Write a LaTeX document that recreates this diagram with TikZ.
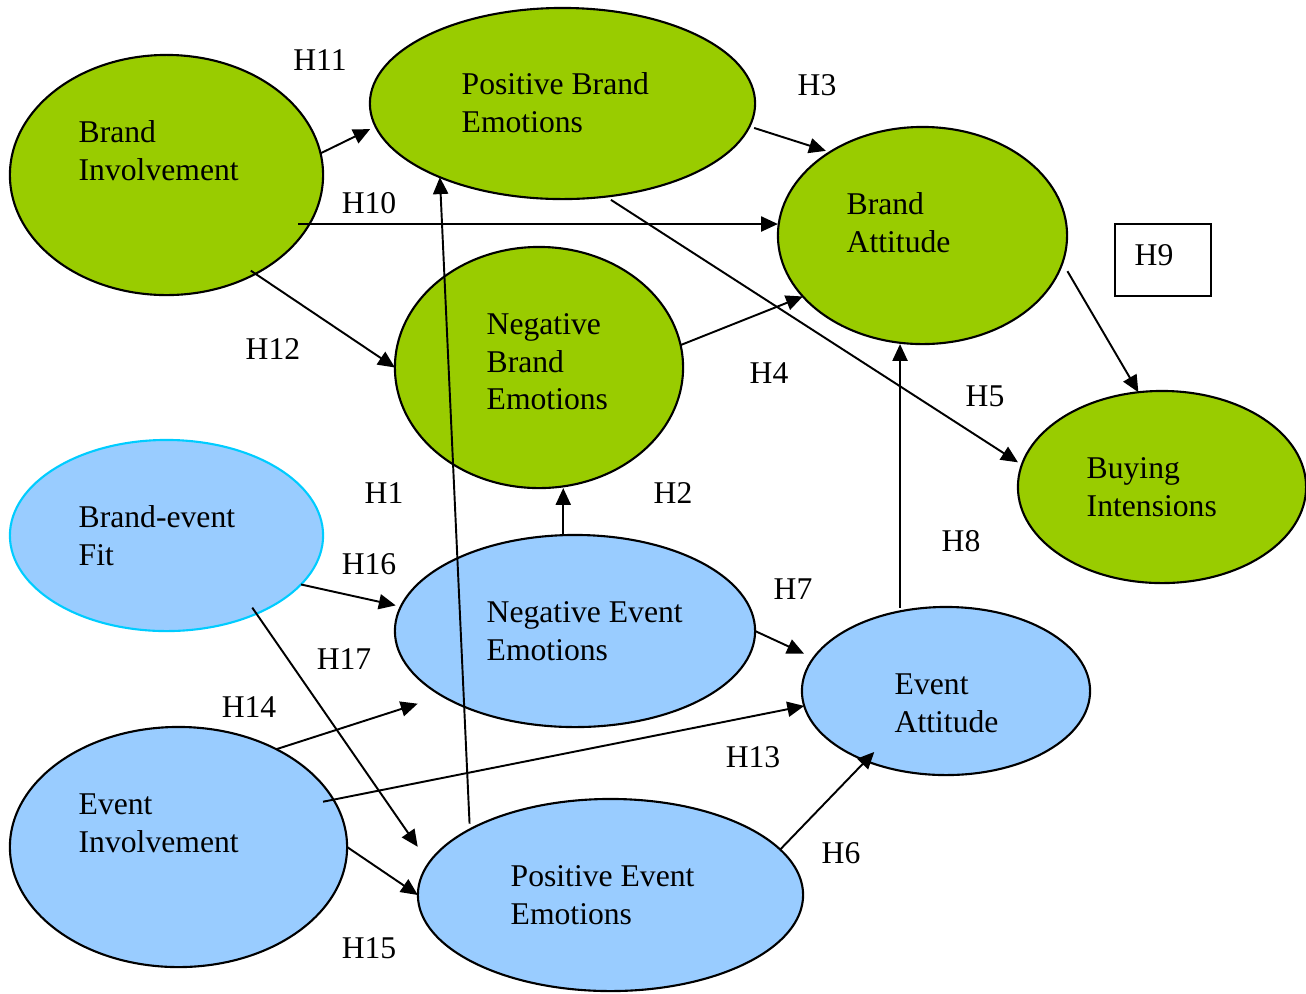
\documentclass[tikz,border=0pt]{standalone}
\usepackage{fontspec}
\setmainfont{Liberation Serif}
\usetikzlibrary{shapes.geometric, arrows.meta, calc}
\definecolor{brandgreen}{HTML}{99CC00}
\definecolor{eventblue}{HTML}{99CCFF}
\definecolor{fitcyan}{HTML}{00CCFF}

\begin{document}
\begin{tikzpicture}[x=0.01cm, y=-0.01cm,
  construct/.style={ellipse, draw=black, line width=0.6pt, inner sep=0pt, outer sep=0pt},
  brandell/.style={construct, fill=brandgreen},
  eventell/.style={construct, fill=eventblue},
  fitell/.style={construct, fill=eventblue, draw=fitcyan},
  lbl/.style={inner sep=0pt, anchor=north west, align=left, font=\fontsize{9}{10.6}\selectfont},
  hyp/.style={inner sep=0pt, font=\fontsize{9}{10.6}\selectfont},
  link/.style={-{Triangle[length=4.8pt,width=4.3pt]}, line width=0.55pt}]
\useasboundingbox (0,0) rectangle (1306,993);

% brand constructs
\node[brandell, minimum width=3.13cm, minimum height=2.40cm] (bi)  at (166.5,175)   {};
\node[brandell, minimum width=3.85cm, minimum height=1.91cm] (pbe) at (562.5,103.5) {};
\node[brandell, minimum width=2.89cm, minimum height=2.17cm] (ba)  at (922.5,235.5) {};
\node[brandell, minimum width=2.88cm, minimum height=2.41cm] (nbe) at (539,367.5)   {};
\node[brandell, minimum width=2.88cm, minimum height=1.92cm] (buy) at (1162,487)    {};

% event constructs
\node[fitell,   minimum width=3.13cm, minimum height=1.91cm] (bef) at (166.5,535.5) {};
\node[eventell, minimum width=3.60cm, minimum height=1.92cm] (nee) at (575,631)     {};
\node[eventell, minimum width=2.88cm, minimum height=1.68cm] (ea)  at (946,691)     {};
\node[eventell, minimum width=3.37cm, minimum height=2.40cm] (ei)  at (178.5,847)   {};
\node[eventell, minimum width=3.85cm, minimum height=1.92cm] (pee) at (610.5,895)   {};

% hypothesis box
\node[draw, line width=0.6pt, inner sep=0pt, minimum width=0.96cm, minimum height=0.72cm] (h9box) at (1163,260) {};

% hypothesised paths
\draw[link, shorten >=1.7pt] (bi.8) -- (pbe.187);
\draw[link, shorten <=1.4pt, shorten >=1.2pt] (pbe.-7) -- (ba.138);
\coordinate (h10s) at (298,224);
\draw[link] (h10s) -- (h10s -| ba.west);
\draw[link, shorten <=-1.6pt] (bi.-48) -- (nbe.west);
\draw[link] (nbe.9) -- (ba.207);
\draw[link, shorten <=1.7pt, shorten >=1.3pt] (pbe.-65.5) -- (buy.171);
\draw[link, shorten <=2.8pt] (ba.-11.4) -- (buy.104);
\draw[link] (nee.97) -- (nee.97 |- nbe.south);
\draw[link, shorten <=1pt] (ea.120.6) -- (ea.120.6 |- ba.south);
\draw[link, shorten <=1.65pt] (pee.155.85) -- (pbe.211.9);
\draw[link, shorten >=1.5pt] (bef.-20.1) -- (nee.172.6);
\draw[link, shorten >=3pt] (nee.east) -- (ea.166.7);
\draw[link, shorten <=-2.1pt, shorten >=5.6pt] (bef.-41.5) -- (pee.170.4);
\draw[link, shorten >=7.3pt] (ei.45) -- (nee.206.1);
\draw[link, shorten <=-3pt] (ei.17.7) -- (ea.186);
\draw[link] (ei.east) -- (pee.west);
\draw[link, shorten >=-3.5pt] (pee.15.6) -- (ea.221.6);

% construct names
\node[lbl] (bi-t)  at (78,116)   {\strut Brand\\Involvement};
\node[lbl] (pbe-t) at (461,68)   {\strut Positive Brand\\Emotions};
\node[lbl] (ba-t)  at (846,188)  {\strut Brand\\Attitude};
\node[lbl] (nbe-t) at (486,308)  {\strut Negative\\Brand\\Emotions};
\node[lbl] (buy-t) at (1086,452) {\strut Buying\\Intensions};
\node[lbl] (bef-t) at (78,501)   {\strut Brand-event\\Fit};
\node[lbl] (nee-t) at (486,596)  {\strut Negative Event\\Emotions};
\node[lbl] (ea-t)  at (894,668)  {\strut Event\\Attitude};
\node[lbl] (ei-t)  at (78,788)   {\strut Event\\Involvement};
\node[lbl] (pee-t) at (510,860)  {\strut Positive Event\\Emotions};

% hypothesis labels
\node[hyp] (h11) at (320,60)  {H11};
\node[hyp] (h3)  at (817,85)  {H3};
\node[hyp] (h10) at (369,203) {H10};
\node[hyp] (h9)  at (1154,255) {H9};
\node[hyp] (h12) at (273,349) {H12};
\node[hyp] (h4)  at (769,373) {H4};
\node[hyp] (h5)  at (985,396) {H5};
\node[hyp] (h1)  at (384,493) {H1};
\node[hyp] (h2)  at (673,493) {H2};
\node[hyp] (h8)  at (961,541) {H8};
\node[hyp] (h16) at (369,564) {H16};
\node[hyp] (h7)  at (793,589) {H7};
\node[hyp] (h17) at (344,659) {H17};
\node[hyp] (h14) at (249,707) {H14};
\node[hyp] (h13) at (753,757) {H13};
\node[hyp] (h6)  at (841,853) {H6};
\node[hyp] (h15) at (369,948) {H15};
\end{tikzpicture}
\end{document}
